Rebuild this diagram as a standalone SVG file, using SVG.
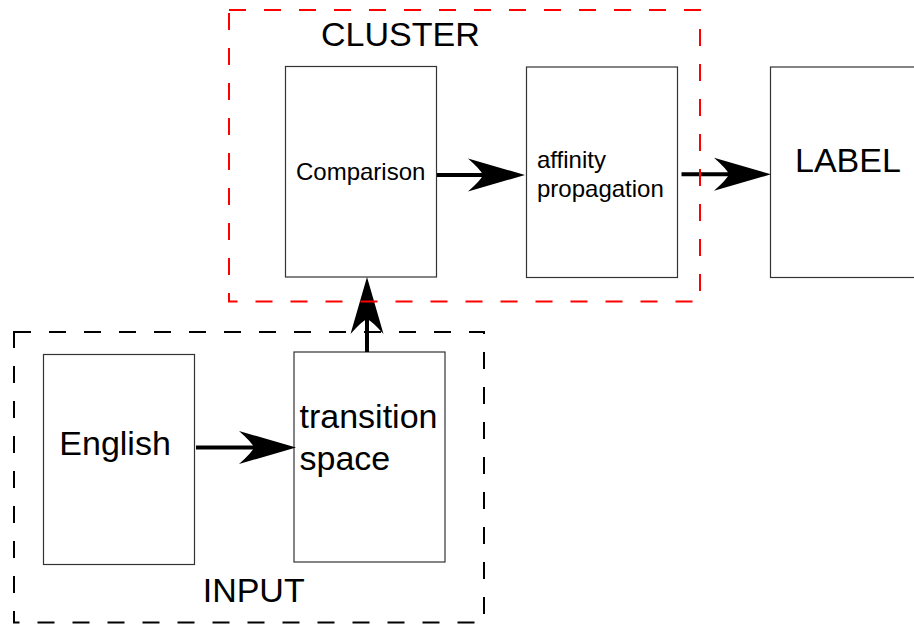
<svg xmlns="http://www.w3.org/2000/svg" width="914" height="624" viewBox="0 0 914 624">
<style>
  .box { fill: #ffffff; stroke: #333333; stroke-width: 1.2; }
  .lbl { font-family: "Liberation Sans", Arial, sans-serif; fill: #000000; }
  .big { font-size: 34px; }
  .small { font-size: 24px; }
  .conn { stroke: #000000; stroke-width: 4; fill: none; }
  .cluster { fill: none; stroke: #ff0000; stroke-width: 2; stroke-dasharray: 17 18; }
  .input { fill: none; stroke: #000000; stroke-width: 2; stroke-dasharray: 17 18; }
</style>
<defs>
  <marker id="arrow" markerUnits="userSpaceOnUse" markerWidth="62" markerHeight="40" viewBox="-60 -20 62 40" refX="-40" refY="0" orient="auto" overflow="visible">
    <path d="M0,0 L-57,-16.5 Q-44,-5 -42,0 Q-44,5 -57,16.5 Z" fill="#000000"/>
  </marker>
</defs>
<rect width="914" height="624" fill="#ffffff"/>

<g id="node-comparison">
  <rect class="box" x="285.5" y="66.5" width="151" height="210.5"/>
  <text class="lbl small" x="296" y="179.5">Comparison</text>
</g>
<g id="node-affinity">
  <rect class="box" x="526.5" y="67" width="151" height="210.5"/>
  <text class="lbl small" x="537" y="168.3">affinity</text>
  <text class="lbl small" x="537" y="196.7">propagation</text>
</g>
<g id="node-label">
  <rect class="box" x="770.5" y="67" width="160" height="210.5"/>
  <text class="lbl big" x="795" y="171.7">LABEL</text>
</g>
<g id="node-english">
  <rect class="box" x="43.5" y="354.5" width="151" height="210"/>
  <text class="lbl big" x="59.3" y="454.5">English</text>
</g>
<g id="node-transition">
  <rect class="box" x="294" y="352" width="151" height="210"/>
  <text class="lbl big" x="299.5" y="427.7">transition</text>
  <text class="lbl big" x="299.5" y="470">space</text>
</g>

<g id="connectors">
  <line class="conn" x1="196" y1="447.5" x2="256" y2="447.5" marker-end="url(#arrow)"/>
  <line class="conn" x1="367" y1="352" x2="367" y2="317" marker-end="url(#arrow)"/>
  <line class="conn" x1="437" y1="175" x2="485" y2="175" marker-end="url(#arrow)"/>
  <line class="conn" x1="681.5" y1="174.3" x2="731" y2="174.3" marker-end="url(#arrow)"/>
</g>

<g id="group-cluster">
  <rect class="cluster" x="229" y="10" width="471" height="291.5"/>
  <text class="lbl big" x="321" y="45.7">CLUSTER</text>
</g>
<g id="group-input">
  <rect class="input" x="14" y="332" width="470" height="290.5"/>
  <text class="lbl big" x="202.7" y="602.3">INPUT</text>
</g>
</svg>
